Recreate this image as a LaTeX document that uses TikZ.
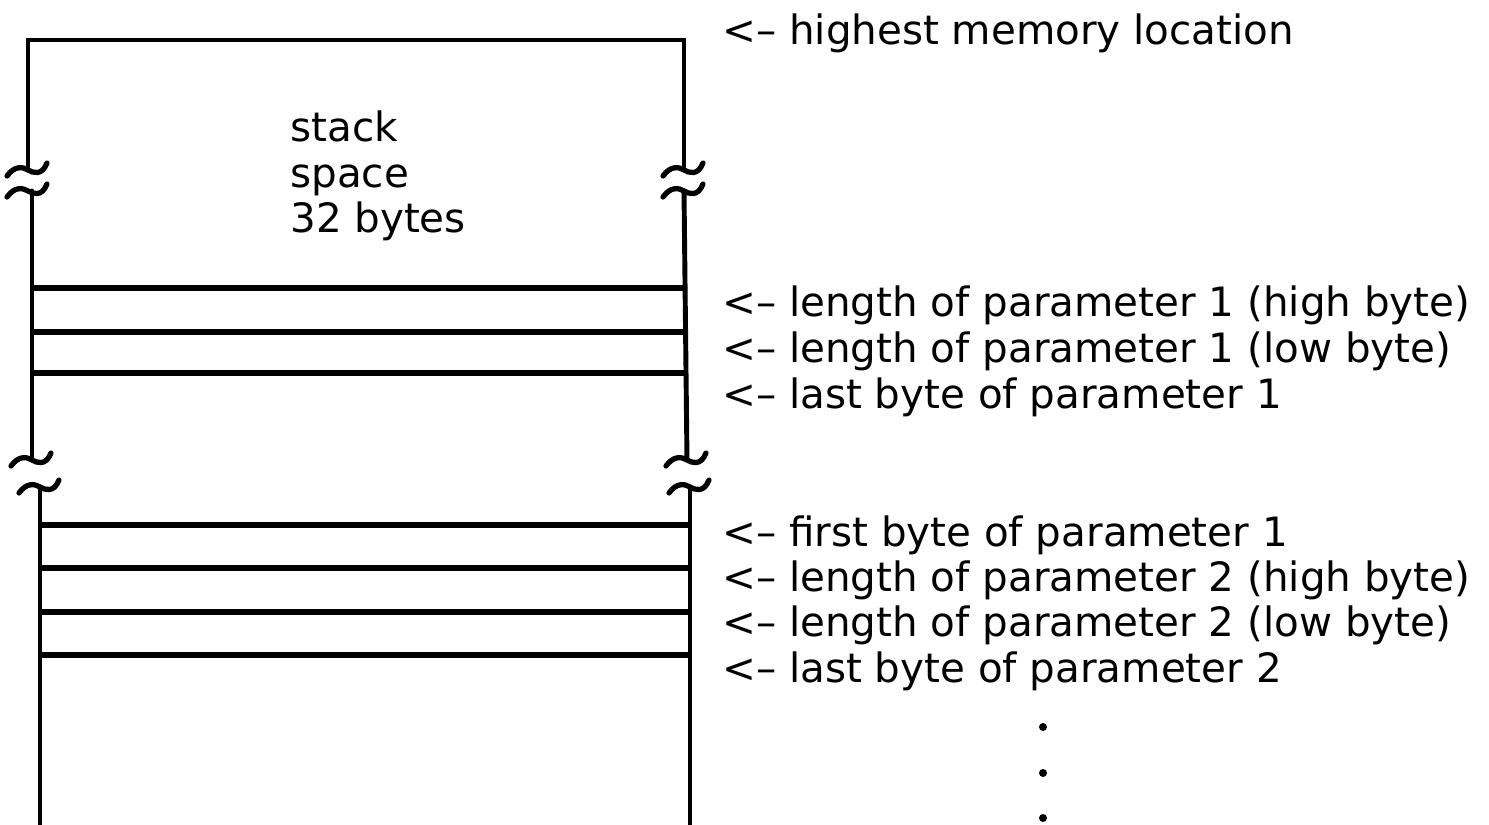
\documentclass[tikz,border=0pt]{standalone}
\usepackage{fontspec}
\setmainfont{DejaVu Sans}

\begin{document}
\begin{tikzpicture}[
    x=0.02cm, y=-0.02cm,
    wall/.style={line width=2.8pt, line cap=round},
    slot/.style={line width=3.2pt},
    brk/.style={line width=3pt, line cap=round},
    lbl/.style={anchor=base west, inner sep=0pt, font=\fontsize{23}{27}\selectfont},
    cut/.pic={\draw[brk] (-21,6) .. controls (-13,-5) and (-5,-3) .. (0,0)
                          .. controls (5,3) and (14,6) .. (19,-7);}]
  \useasboundingbox (0,0) rectangle (1489,825);

  % outline of the stack, broken twice on each side
  \draw[wall] (28,170) -- (28,40) -- (684,40) -- (684,170);
  \draw[wall] (32,191) -- (32,460);
  \draw[wall] (684,191) -- (687,460);
  \draw[wall] (40,487) -- (40,825);
  \draw[wall] (690,487) -- (690,825);
  \pic at (28,170) {cut};   \pic at (28,191) {cut};
  \pic at (684,170) {cut};  \pic at (684,191) {cut};
  \pic at (32,460) {cut};   \pic at (40,487) {cut};
  \pic at (687,460) {cut};  \pic at (690,487) {cut};

  % byte slots
  \foreach \y in {288,332,373}
    \draw[slot] (32,\y) -- (687,\y);
  \foreach \y in {525,568,612,655}
    \draw[slot] (40,\y) -- (690,\y);

  \node[lbl] (stk1) at (290,141) {stack};
  \node[lbl] (stk2) at (290,187) {space};
  \node[lbl] (stk3) at (290,232) {32 bytes};

  % labels on the right
  \node[lbl] (top)   at (722,44)  {<-- highest memory location};
  \node[lbl] (len1h) at (722,316) {<-- length of parameter 1 (high byte)};
  \node[lbl] (len1l) at (722,362) {<-- length of parameter 1 (low byte)};
  \node[lbl] (last1) at (722,408) {<-- last byte of parameter 1};
  \node[lbl] (first1) at (722,546) {<-- first byte of parameter 1};
  \node[lbl] (len2h) at (722,591) {<-- length of parameter 2 (high byte)};
  \node[lbl] (len2l) at (722,636) {<-- length of parameter 2 (low byte)};
  \node[lbl] (last2) at (722,682) {<-- last byte of parameter 2};

  \foreach \y in {727,773,818}
    \fill (1043,\y) circle (4);
\end{tikzpicture}
\end{document}
